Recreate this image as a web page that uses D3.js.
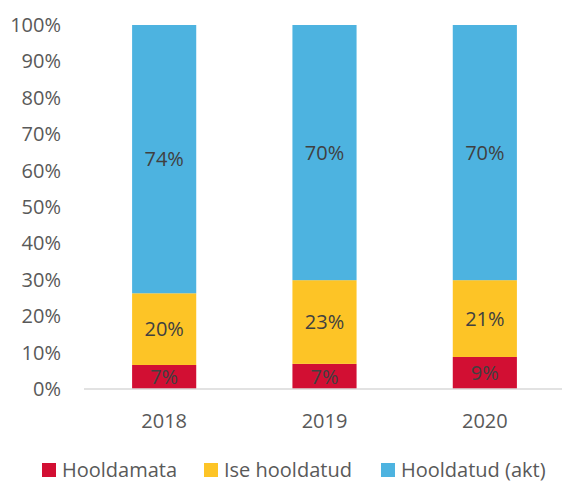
<!DOCTYPE html>
<html lang="et">
<head>
<meta charset="UTF-8">
<title>Hooldatud alad</title>
<script src="https://cdnjs.cloudflare.com/ajax/libs/d3/7.8.5/d3.min.js"></script>
<style>
  body { margin: 0; background: #fff; font-family: "Open Sans", sans-serif; }
  .tick text { font-size: 20px; fill: #595959; font-family: "Open Sans", sans-serif; }
  .lbl { font-size: 20px; fill: #404040; }
  .legend text { font-size: 20px; fill: #595959; }
</style>
</head>
<body>
<svg width="562" height="482"></svg>
<script>
// values (share of total, %)
const years = ["2018", "2019", "2020"];
const hooldamata = [6.6, 6.9, 8.8];
const iseHooldatud = [19.7, 23.0, 21.1];
const hooldatudAkt = [73.7, 70.1, 70.1];
const labels = [
  ["7%", "7%", "9%"],
  ["20%", "23%", "21%"],
  ["74%", "70%", "70%"]
];
const seriesNames = ["Hooldamata", "Ise hooldatud", "Hooldatud (akt)"];
const colors = ["#d20f33", "#fdc426", "#4db3e0"];
const yTicks = [0, 10, 20, 30, 40, 50, 60, 70, 80, 90, 100];

const svg = d3.select("svg");
const plotL = 84, plotR = 565, plotT = 25, plotB = 389;

const x = d3.scaleBand().domain(years).range([plotL, plotR]).paddingInner(0.6).paddingOuter(0.3);
const y = d3.scaleLinear().domain([0, 100]).range([plotB, plotT]);

// y axis labels only
svg.append("g")
  .attr("transform", `translate(${plotL - 23},0)`)
  .call(d3.axisLeft(y).tickValues(yTicks).tickFormat(d => d + "%").tickSize(0).tickPadding(0))
  .call(g => g.select(".domain").remove());

const rows = years.map((yr, i) => ({ year: yr, a: hooldamata[i], b: iseHooldatud[i], c: hooldatudAkt[i], i }));
const stack = d3.stack().keys(["a", "b", "c"])(rows);

const layers = svg.selectAll(".layer")
  .data(stack)
  .enter().append("g")
  .attr("class", "layer")
  .attr("fill", (d, k) => colors[k]);

layers.selectAll("rect")
  .data(d => d)
  .enter().append("rect")
  .attr("x", d => x(d.data.year))
  .attr("width", x.bandwidth())
  .attr("y", d => y(d[1]))
  .attr("height", d => y(d[0]) - y(d[1]));

layers.selectAll("text")
  .data((d, k) => d.map(p => ({ p, k })))
  .enter().append("text")
  .attr("class", "lbl")
  .attr("text-anchor", "middle")
  .attr("x", d => x(d.p.data.year) + x.bandwidth() / 2)
  .attr("y", d => (y(d.p[0]) + y(d.p[1])) / 2)
  .attr("dy", "0.36em")
  .text(d => labels[d.k][d.p.data.i]);

// x axis
svg.append("line")
  .attr("x1", plotL).attr("x2", plotR)
  .attr("y1", plotB).attr("y2", plotB)
  .attr("stroke", "#d9d9d9").attr("stroke-width", 1.5);

svg.append("g").selectAll("text")
  .data(years)
  .enter().append("text")
  .attr("class", "lbl")
  .style("fill", "#595959")
  .attr("text-anchor", "middle")
  .attr("x", d => x(d) + x.bandwidth() / 2)
  .attr("y", 428)
  .text(d => d);

// legend (nudged up a little so descenders are not clipped)
const legendX = [42, 204, 381];
const legend = svg.append("g").attr("class", "legend");
const item = legend.selectAll("g")
  .data(seriesNames)
  .enter().append("g")
  .attr("transform", (d, i) => `translate(${legendX[i]},463)`);
item.append("rect").attr("width", 14).attr("height", 14).attr("fill", (d, i) => colors[i]);
item.append("text").attr("x", 20).attr("y", 14).text(d => d);
</script>
</body>
</html>
